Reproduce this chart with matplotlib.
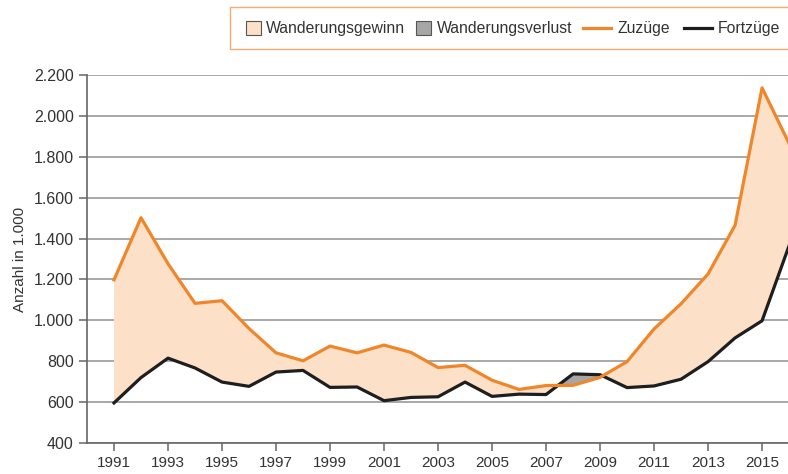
import numpy as np
import matplotlib.pyplot as plt
from matplotlib.patches import Rectangle
from matplotlib.lines import Line2D
from matplotlib.ticker import FuncFormatter

years = np.arange(1991, 2017)
zuzuege = [1198, 1502, 1277, 1083, 1096, 960, 841, 802, 874, 841, 879, 843, 769,
           780, 707, 662, 681, 682, 721, 798, 958, 1081, 1227, 1465, 2137, 1865]
fortzuege = [596, 720, 815, 767, 698, 677, 747, 755, 672, 674, 607, 623, 626,
             698, 628, 639, 637, 738, 734, 671, 679, 712, 798, 914, 998, 1365]

plt.rcParams['font.family'] = ['Liberation Sans', 'DejaVu Sans']
text_col = '#333333'
grid_col = '#9a9a9a'
orange = '#f0862a'
peach = '#fde0c8'
grey_fill = '#a6a6a6'
W, H = 788, 474

fig = plt.figure(figsize=(W/100, H/100), dpi=100)
ax = fig.add_axes([87/W, 1-443/H, 1-87/W, (443-75)/H])

zu = np.array(zuzuege, dtype=float)
fo = np.array(fortzuege, dtype=float)
ax.fill_between(years, fo, zu, where=zu >= fo, interpolate=True, color=peach, lw=0, zorder=2)
ax.fill_between(years, fo, zu, where=zu < fo, interpolate=True, color=grey_fill, lw=0, zorder=2)
ax.plot(years, zu, color=orange, lw=2.3, zorder=4)
ax.plot(years, fo, color='#1e1e1e', lw=2.3, zorder=3)

ax.set_xlim(1990, 2015.96)
ax.set_ylim(400, 2200)
ax.set_yticks(np.arange(400, 2201, 200))
ax.set_xticks(np.arange(1991, 2016, 2))
ax.yaxis.set_major_formatter(FuncFormatter(lambda v, p: f'{int(v):,}'.replace(',', '.')))
ax.grid(axis='y', color=grid_col, lw=1.2, zorder=1)
ax.set_axisbelow(True)

for s in ['top', 'right']:
    ax.spines[s].set_visible(False)
for s in ['left', 'bottom']:
    ax.spines[s].set_color('#666666')
    ax.spines[s].set_linewidth(1.2)
ax.tick_params(axis='both', colors='#666666', labelcolor=text_col, labelsize=11,
               length=6, width=1.1)
ax.tick_params(axis='y', labelsize=11.5)
ax.set_ylabel('Anzahl in 1.000', fontsize=11, color=text_col, labelpad=5)

# legend drawn by hand (pixel positions -> figure fraction)
def fx(px):
    return px / W

def fy(py):
    return 1 - py / H

fig.patches.append(Rectangle((fx(230), fy(49)), fx(800) - fx(230), (49 - 7) / H,
                             transform=fig.transFigure, facecolor='white',
                             edgecolor='#f6ab70', lw=1.0))
legend_items = [('patch', peach, 'Wanderungsgewinn', 246, 266),
                ('patch', grey_fill, 'Wanderungsverlust', 416, 437),
                ('line', orange, 'Zuzüge', 583, 617),
                ('line', '#1e1e1e', 'Fortzüge', 684, 718)]
for kind, col, label, x0, xt in legend_items:
    if kind == 'patch':
        fig.patches.append(Rectangle((fx(x0), fy(35)), 15 / W, 14 / H,
                                     transform=fig.transFigure, facecolor=col,
                                     edgecolor='#555555', lw=0.8))
    else:
        fig.lines.append(Line2D([fx(x0), fx(x0 + 28)], [fy(28), fy(28)],
                                transform=fig.transFigure, color=col, lw=2.3))
    fig.text(fx(xt), fy(28.5), label, fontsize=11.3, color=text_col, va='center', ha='left')

fig.savefig('out.png', dpi=100)
